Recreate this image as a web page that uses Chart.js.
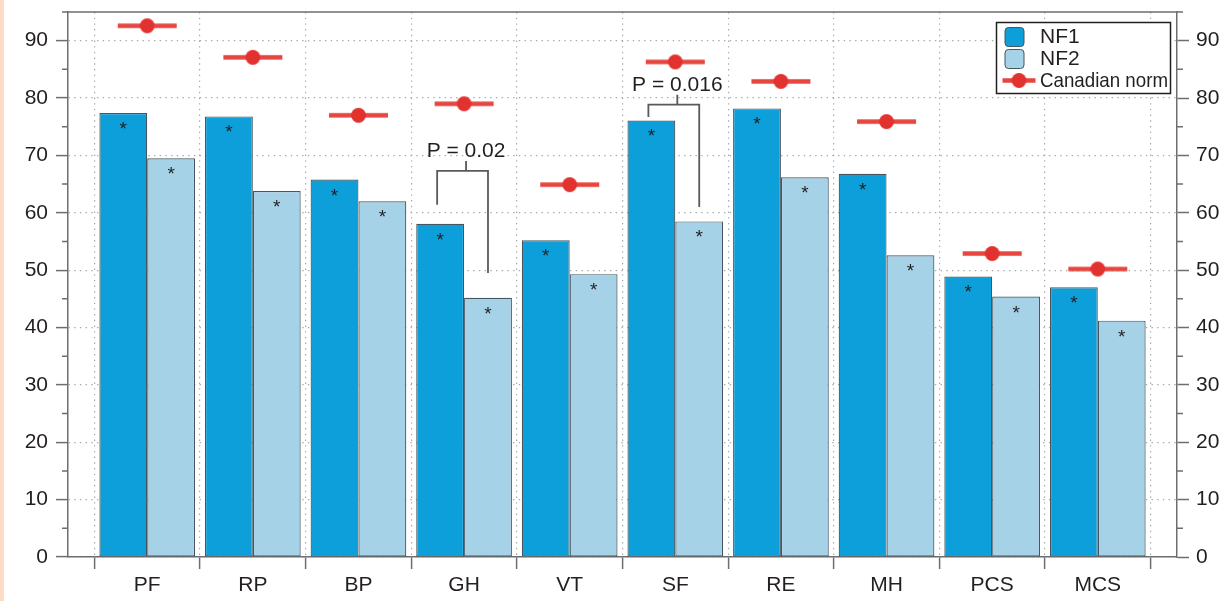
<!DOCTYPE html>
<html>
<head>
<meta charset="utf-8">
<script src="https://cdn.jsdelivr.net/npm/chart.js@4.4.1/dist/chart.umd.min.js"></script>
<style>
  html, body { margin: 0; padding: 0; background: #fff; }
  canvas { display: block; }
</style>
</head>
<body>
<canvas id="chart" width="1221" height="601"></canvas>
<script>
// SF-36 domain and summary scores
const categories = ['PF', 'RP', 'BP', 'GH', 'VT', 'SF', 'RE', 'MH', 'PCS', 'MCS'];
const nf1 = [77.4, 76.8, 65.8, 58.1, 55.2, 76.1, 78.2, 66.8, 48.9, 47.0];
const nf2 = [69.5, 63.8, 62.0, 45.2, 49.3, 58.5, 66.2, 52.6, 45.4, 41.2];
const canadianNorm = [92.6, 87.1, 77.0, 79.0, 64.9, 86.3, 82.9, 75.9, 52.9, 50.2];
const yTickValues = [0, 10, 20, 30, 40, 50, 60, 70, 80, 90];

// NF1 vs NF2 comparisons: bracket heights in score units
const pTests = [
  { cat: 3, label: 'P = 0.02',  top: 67.3, leftEnd: 61.4, rightEnd: 49.5 },
  { cat: 5, label: 'P = 0.016', top: 78.85, leftEnd: 76.7, rightEnd: 61.0 }
];

const FONT = '"Liberation Sans", Arial, Helvetica, sans-serif';
const INK = '#231f20';
const AXIS = '#6d6e71';
const GRID = '#a7a9ac';
const NF1_COLOR = '#0c9fd9';
const NF2_COLOR = '#a6d2e8';
const BAR_EDGE = '#46555f';
const NORM_LINE = '#e6463e';
const NORM_DOT = '#e2322f';
const DOTS = [1.4, 4.3];

// Norm marker: short horizontal bar with a dot in the middle
function normMarker(halfLen, r, lw) {
  const c = document.createElement('canvas');
  c.width = Math.round(halfLen * 2) + 2;
  c.height = Math.round(r * 2) + 2;
  const g = c.getContext('2d');
  const cy = c.height / 2;
  g.strokeStyle = NORM_LINE;
  g.lineWidth = lw;
  g.beginPath(); g.moveTo(1, cy); g.lineTo(c.width - 1, cy); g.stroke();
  g.fillStyle = NORM_DOT;
  g.beginPath(); g.arc(c.width / 2, cy, r, 0, Math.PI * 2); g.fill();
  return c;
}
const normStyle = normMarker(29.5, 7.4, 4.6);
const legendNormStyle = normMarker(16.5, 7.4, 4.6);

// x ticks every half category: labels on whole values, tick marks/grid on boundaries
const xTickValues = [];
for (let v = 0.5; v <= 10.5; v += 0.5) xTickValues.push(v);
const isBoundary = v => Math.abs(v % 1) > 1e-6;

const decorations = {
  id: 'decorations',
  beforeDraw(chart) {
    const { ctx, width, height } = chart;
    ctx.save();
    ctx.fillStyle = '#ffffff';
    ctx.fillRect(0, 0, width, height);
    ctx.fillStyle = '#fddcc7';
    ctx.fillRect(0, 0, 4, height);
    ctx.restore();
  },
  afterDatasetsDraw(chart) {
    const { ctx, chartArea: a, scales: { y } } = chart;
    ctx.save();

    // top frame line and minor ticks on both vertical axes
    ctx.strokeStyle = AXIS;
    ctx.lineWidth = 1.5;
    ctx.beginPath();
    ctx.moveTo(a.left, a.top); ctx.lineTo(a.right, a.top);
    for (let v = 5; v <= 95; v += 10) {
      const py = y.getPixelForValue(v);
      ctx.moveTo(a.left - 6, py); ctx.lineTo(a.left, py);
      ctx.moveTo(a.right, py); ctx.lineTo(a.right + 6, py);
    }
    ctx.stroke();

    // significance asterisks inside each bar top
    ctx.fillStyle = INK;
    ctx.font = '19px ' + FONT;
    ctx.textAlign = 'center';
    ctx.textBaseline = 'alphabetic';
    [0, 1].forEach(di => {
      chart.getDatasetMeta(di).data.forEach(bar => {
        ctx.fillText('*', bar.x, bar.y + 22);
      });
    });

    // P-value brackets
    ctx.strokeStyle = '#58595b';
    ctx.lineWidth = 1.8;
    ctx.font = '21px ' + FONT;
    pTests.forEach(t => {
      const b1 = chart.getDatasetMeta(0).data[t.cat];
      const b2 = chart.getDatasetMeta(1).data[t.cat];
      const x1 = b1.x - 3, x2 = b2.x;
      const xm = (b1.x + b2.x) / 2 + 2;
      const yt = y.getPixelForValue(t.top);
      ctx.beginPath();
      ctx.moveTo(x1, y.getPixelForValue(t.leftEnd));
      ctx.lineTo(x1, yt);
      ctx.lineTo(x2, yt);
      ctx.lineTo(x2, y.getPixelForValue(t.rightEnd));
      ctx.moveTo(xm, yt);
      ctx.lineTo(xm, yt - 10);
      ctx.stroke();
      ctx.fillStyle = INK;
      ctx.fillText(t.label, xm, yt - 14);
    });

    // legend box
    const lx = 996.5, ly = 22.5, lw = 174, lh = 71;
    ctx.fillStyle = '#ffffff';
    ctx.fillRect(lx, ly, lw, lh);
    ctx.strokeStyle = '#231f20';
    ctx.lineWidth = 1.5;
    ctx.strokeRect(lx, ly, lw, lh);
    const ds = chart.data.datasets;
    const swatch = (sx, sy, fill) => {
      ctx.beginPath();
      ctx.roundRect(sx, sy, 19, 19, 3.5);
      ctx.fillStyle = fill;
      ctx.fill();
      ctx.strokeStyle = BAR_EDGE;
      ctx.lineWidth = 1;
      ctx.stroke();
    };
    swatch(1005, 27.5, ds[0].backgroundColor);
    swatch(1005, 49.5, ds[1].backgroundColor);
    ctx.drawImage(legendNormStyle, 1019 - legendNormStyle.width / 2, 80.5 - legendNormStyle.height / 2);
    ctx.fillStyle = INK;
    ctx.font = '21px ' + FONT;
    ctx.textAlign = 'left';
    ctx.textBaseline = 'middle';
    ctx.fillText(ds[0].label, 1040, 37.5);
    ctx.fillText(ds[1].label, 1040, 59.5);
    ctx.fillText(ds[2].label, 1040, 81, 128);

    ctx.restore();
  }
};

const tickFont = { family: FONT, size: 21 };

// The bar ruler sees the half-category tick spacing, so a full group
// (about 90% of a category) is 1.81 of that spacing.
const GROUP_FRACTION = 1.812;

// vertical axes: fixed width, no extra label overhang above the frame
const fitVertical = width => s => {
  s.width = width;
  s.paddingTop = 0;
  s.paddingBottom = 0;
};

new Chart(document.getElementById('chart'), {
  type: 'bar',
  data: {
    datasets: [
      {
        label: 'NF1',
        data: nf1.map((v, i) => ({ x: i + 1, y: v })),
        backgroundColor: NF1_COLOR,
        borderColor: BAR_EDGE,
        borderWidth: 1.2,
        borderSkipped: false,
        categoryPercentage: GROUP_FRACTION,
        barPercentage: 1.0
      },
      {
        label: 'NF2',
        data: nf2.map((v, i) => ({ x: i + 1, y: v })),
        backgroundColor: NF2_COLOR,
        borderColor: BAR_EDGE,
        borderWidth: 1.2,
        borderSkipped: false,
        categoryPercentage: GROUP_FRACTION,
        barPercentage: 1.0
      },
      {
        type: 'line',
        label: 'Canadian norm',
        data: canadianNorm.map((v, i) => ({ x: i + 1, y: v })),
        showLine: false,
        pointStyle: normStyle,
        pointRadius: 8,
        order: -1
      }
    ]
  },
  options: {
    responsive: false,
    devicePixelRatio: 1,
    animation: false,
    events: [],
    layout: { padding: { top: 12, left: 0, right: 0, bottom: 0 } },
    plugins: { legend: { display: false }, tooltip: { enabled: false } },
    scales: {
      x: {
        type: 'linear',
        offset: false,
        min: 0.25,
        max: 10.75,
        afterBuildTicks: s => { s.ticks = xTickValues.map(v => ({ value: v })); },
        afterFit: s => { s.height = 44; s.paddingLeft = 0; s.paddingRight = 0; },
        ticks: {
          autoSkip: false,
          maxRotation: 0,
          padding: 4,
          color: INK,
          font: tickFont,
          callback: v => (isBoundary(v) ? '' : categories[Math.round(v) - 1])
        },
        grid: {
          offset: false,
          color: c => (c.tick && isBoundary(c.tick.value)) ? GRID : 'rgba(0,0,0,0)',
          lineWidth: 1.2,
          borderDash: DOTS,
          tickLength: 12,
          tickWidth: 1.5,
          tickColor: c => (c.tick && isBoundary(c.tick.value)) ? AXIS : 'rgba(0,0,0,0)'
        },
        border: { color: AXIS, width: 1.5, dash: DOTS }
      },
      y: {
        type: 'linear',
        position: 'left',
        min: 0,
        max: 95,
        afterBuildTicks: s => { s.ticks = yTickValues.map(v => ({ value: v })); },
        afterFit: fitVertical(68),
        ticks: { padding: 8, color: INK, font: tickFont },
        grid: {
          color: GRID,
          lineWidth: 1.2,
          borderDash: DOTS,
          tickLength: 12,
          tickWidth: 1.5,
          tickColor: AXIS
        },
        border: { color: AXIS, width: 1.5, dash: DOTS }
      },
      y2: {
        type: 'linear',
        position: 'right',
        min: 0,
        max: 95,
        afterBuildTicks: s => { s.ticks = yTickValues.map(v => ({ value: v })); },
        afterFit: fitVertical(44),
        ticks: { padding: 7, color: INK, font: tickFont },
        grid: {
          drawOnChartArea: false,
          tickLength: 12,
          tickWidth: 1.5,
          tickColor: AXIS
        },
        border: { color: AXIS, width: 1.5 }
      }
    }
  },
  plugins: [decorations]
});
</script>
</body>
</html>
